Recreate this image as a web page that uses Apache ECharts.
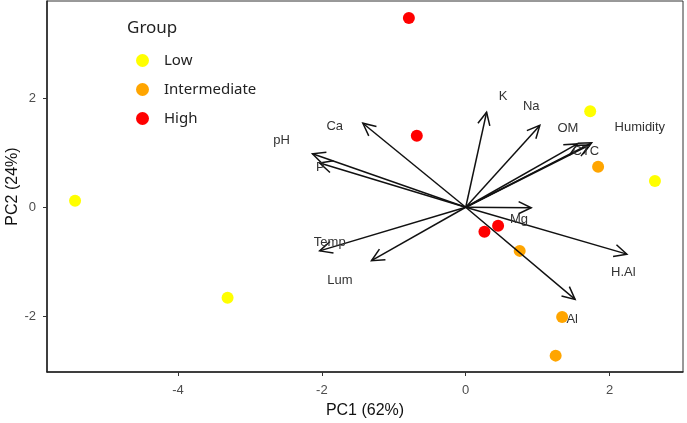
<!DOCTYPE html>
<html>
<head>
<meta charset="utf-8">
<title>PCA biplot</title>
<script src="https://cdn.jsdelivr.net/npm/echarts@6/dist/echarts.min.js"></script>
<style>
    html, body { margin: 0; padding: 0; background: #fff; }
    #main { width: 687px; height: 423px; }
</style>
</head>
<body>
<div id="main"></div>
<script>
    // sample scores (PC1, PC2) per group
    const lowPC1 = [-5.43, -3.31, 1.73, 2.63]
    const lowPC2 = [0.12, -1.66, 1.76, 0.48]
    const interPC1 = [1.84, 0.75, 1.34, 1.25]
    const interPC2 = [0.74, -0.80, -2.01, -2.72]
    const highPC1 = [-0.79, -0.68, 0.26, 0.45]
    const highPC2 = [3.47, 1.31, -0.45, -0.34]

    // variable loadings (arrow tips)
    const varNames = ['Ca', 'pH', 'P', 'Temp', 'Lum', 'K', 'Na', 'OM', 'Humidity', 'CTC', 'Mg', 'H.Al', 'Al']
    const varPC1 = [-1.43, -2.13, -2.03, -2.03, -1.31, 0.29, 1.03, 1.55, 1.75, 1.72, 0.91, 2.24, 1.52]
    const varPC2 = [1.54, 0.98, 0.81, -0.80, -0.98, 1.74, 1.50, 1.16, 1.18, 1.14, -0.01, -0.86, -1.69]
    // where each variable label sits
    const labPC1 = [-1.82, -2.56, -2.02, -1.89, -1.75, 0.52, 0.91, 1.42, 2.42, 1.67, 0.74, 2.19, 1.48]
    const labPC2 = [1.49, 1.22, 0.73, -0.65, -1.35, 2.04, 1.84, 1.44, 1.47, 1.02, -0.23, -1.20, -2.06]

    // axis ticks
    const xTicks = [-4, -2, 0, 2]
    const yTicks = [-2, 0, 2]

    const pairs = (xs, ys) => xs.map((x, i) => [x, ys[i]])

    const chart = echarts.init(document.getElementById('main'))

    /**
     * arrow from origin to loading, open head
     */
    function drawArrow (params, api) {
        const o = api.coord([0, 0])
        const t = api.coord([api.value(0), api.value(1)])
        const ang = Math.atan2(t[1] - o[1], t[0] - o[0])
        const len = 14
        const spread = 0.45
        const h1 = [t[0] - len * Math.cos(ang - spread), t[1] - len * Math.sin(ang - spread)]
        const h2 = [t[0] - len * Math.cos(ang + spread), t[1] - len * Math.sin(ang + spread)]
        const style = { stroke: '#111', lineWidth: 1.5, fill: null }
        return {
            type: 'group',
            children: [
                { type: 'line', shape: { x1: o[0], y1: o[1], x2: t[0], y2: t[1] }, style: style },
                { type: 'polyline', shape: { points: [h1, t, h2] }, style: style }
            ]
        }
    }

    function drawLabel (params, api) {
        const p = api.coord([api.value(0), api.value(1)])
        return {
            type: 'text',
            x: p[0],
            y: p[1],
            style: {
                text: varNames[params.dataIndex],
                align: 'center',
                verticalAlign: 'middle',
                fontSize: 13,
                fontFamily: 'Liberation Sans, Arial, sans-serif',
                fill: '#333'
            }
        }
    }

    const pointSeries = (name, color, xs, ys) => ({
        name: name,
        type: 'scatter',
        symbol: 'circle',
        symbolSize: 12,
        itemStyle: { color: color, opacity: 1 },
        z: 2,
        data: pairs(xs, ys)
    })

    chart.setOption({
        animation: false,
        textStyle: { fontFamily: 'Liberation Sans, Arial, sans-serif' },
        title: {
            text: 'Group',
            left: 127,
            top: 20,
            padding: 0,
            textStyle: { fontSize: 17, fontWeight: 'normal', color: '#222', fontFamily: 'Noto Sans' }
        },
        legend: {
            orient: 'vertical',
            left: 136,
            top: 53,
            padding: 0,
            icon: 'circle',
            itemWidth: 13,
            itemHeight: 13,
            itemGap: 14,
            data: ['Low', 'Intermediate', 'High'],
            textStyle: { fontSize: 15, color: '#222', fontFamily: 'Noto Sans', padding: [0, 0, 0, 10] }
        },
        grid: {
            left: 47,
            right: 4,
            top: 1,
            bottom: 51,
            outerBoundsMode: 'none',
            show: true,
            borderColor: '#333',
            borderWidth: 1
        },
        xAxis: {
            type: 'value',
            min: -5.82,
            max: 3.02,
            name: 'PC1 (62%)',
            nameLocation: 'middle',
            nameGap: 31,
            nameMoveOverlap: false,
            nameTextStyle: { fontSize: 16, color: '#111' },
            axisLine: { show: true, onZero: false, lineStyle: { color: '#222', width: 1.5 } },
            axisTick: { show: true, length: 4, customValues: xTicks, lineStyle: { color: '#333' } },
            axisLabel: { customValues: xTicks, fontSize: 13, color: '#4d4d4d', margin: 12 },
            splitLine: { show: false }
        },
        yAxis: {
            type: 'value',
            min: -3.02,
            max: 3.78,
            name: 'PC2 (24%)',
            nameLocation: 'middle',
            nameGap: 26,
            nameMoveOverlap: false,
            nameTextStyle: { fontSize: 16, color: '#111' },
            axisLine: { show: true, onZero: false, lineStyle: { color: '#222', width: 1.5 } },
            axisTick: { show: true, length: 4, customValues: yTicks, lineStyle: { color: '#333' } },
            axisLabel: { customValues: yTicks, fontSize: 13, color: '#4d4d4d', margin: 11 },
            splitLine: { show: false }
        },
        series: [
            pointSeries('Low', '#ffff00', lowPC1, lowPC2),
            pointSeries('Intermediate', '#ffa500', interPC1, interPC2),
            pointSeries('High', '#ff0000', highPC1, highPC2),
            {
                name: 'loadings',
                type: 'custom',
                renderItem: drawArrow,
                z: 3,
                silent: true,
                data: pairs(varPC1, varPC2)
            },
            {
                name: 'labels',
                type: 'custom',
                renderItem: drawLabel,
                z: 4,
                silent: true,
                data: pairs(labPC1, labPC2)
            }
        ]
    })
</script>
</body>
</html>
